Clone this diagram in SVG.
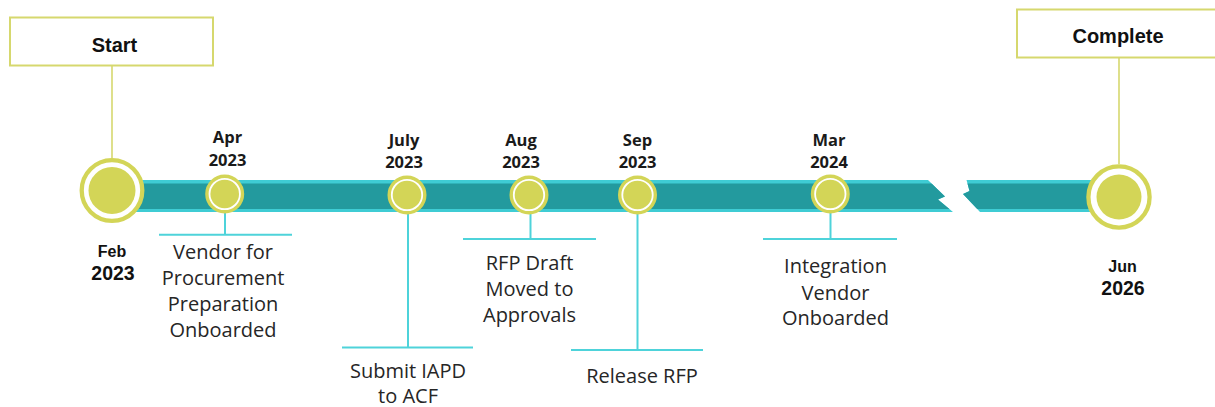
<svg xmlns="http://www.w3.org/2000/svg" width="1215" height="407" viewBox="0 0 1215 407">
  <style>
    .box { fill: #ffffff; stroke: #D6D86E; stroke-width: 2; }
    .stem { stroke: #D6D86E; stroke-width: 1.6; fill: none; }
    .conn { stroke: #4ED3DA; stroke-width: 2; fill: none; }
    .ring { fill: #ffffff; stroke: #D3D557; }
    .dot { fill: #D3D557; }
    .title { font-family: "Liberation Sans", Arial, sans-serif; font-weight: bold; font-size: 20px; fill: #111111; text-anchor: middle; }
    .date { font-family: "Open Sans", "Liberation Sans", sans-serif; font-weight: bold; font-size: 16.5px; fill: #1a1a1a; text-anchor: middle; }
    .edate1 { font-family: "Liberation Sans", Arial, sans-serif; font-weight: bold; font-size: 16px; fill: #111111; text-anchor: middle; }
    .edate2 { font-family: "Liberation Sans", Arial, sans-serif; font-weight: bold; font-size: 19.5px; fill: #111111; text-anchor: middle; }
    .desc { font-family: "Open Sans", "Liberation Sans", sans-serif; font-size: 20px; fill: #262626; text-anchor: middle; }
  </style>
  <defs>
    <clipPath id="bandClip">
      <polygon points="130,180 928,180 945,196.5 938,199.5 953,212 130,212"/>
      <polygon points="966.5,180 1110,180 1110,212 980,212 963,194 969.5,191"/>
    </clipPath>
  </defs>
  <rect width="1215" height="407" fill="#ffffff"/>

  <!-- timeline band -->
  <g id="band" clip-path="url(#bandClip)">
    <rect x="120" y="180" width="1000" height="32" fill="#3FCCD4"/>
    <rect x="120" y="183.5" width="1000" height="25.5" fill="#239A9E"/>
  </g>

  <g id="connectors">
    <line class="stem" x1="112" y1="66" x2="112" y2="158"/>
    <line class="stem" x1="1119" y1="58" x2="1119" y2="164"/>
    <!-- Apr -->
    <line class="conn" x1="225" y1="213" x2="225" y2="234.7"/>
    <line class="conn" x1="159" y1="234.7" x2="292" y2="234.7"/>
    <!-- July -->
    <line class="conn" x1="408" y1="214" x2="408" y2="347.5"/>
    <line class="conn" x1="342" y1="347.5" x2="473" y2="347.5"/>
    <!-- Aug -->
    <line class="conn" x1="530.5" y1="214" x2="530.5" y2="239"/>
    <line class="conn" x1="463" y1="239" x2="596" y2="239"/>
    <!-- Sep -->
    <line class="conn" x1="637.5" y1="214" x2="637.5" y2="350"/>
    <line class="conn" x1="571" y1="350" x2="703" y2="350"/>
    <!-- Mar -->
    <line class="conn" x1="830.5" y1="213" x2="830.5" y2="239"/>
    <line class="conn" x1="763" y1="239" x2="897" y2="239"/>
  </g>

  <g id="start">
    <rect class="box" x="10" y="17.5" width="203" height="48"/>
    <text class="title" x="114.5" y="51.5">Start</text>
    <circle class="ring" cx="112" cy="190.5" r="30.3" stroke-width="4.3"/>
    <circle class="dot" cx="112" cy="190.5" r="23.5"/>
    <text class="edate1" x="112" y="257">Feb</text>
    <text class="edate2" x="113" y="280">2023</text>
  </g>

  <g id="complete">
    <rect class="box" x="1017" y="9.5" width="204" height="48"/>
    <text class="title" x="1118" y="43">Complete</text>
    <circle class="ring" cx="1119" cy="197" r="30.6" stroke-width="4.3"/>
    <circle class="dot" cx="1119" cy="197" r="22.5"/>
    <text class="edate1" x="1122.5" y="272">Jun</text>
    <text class="edate2" x="1123" y="295">2026</text>
  </g>

  <g id="apr">
    <circle class="ring" cx="224.7" cy="194" r="17.8" stroke-width="3.4"/>
    <circle class="dot" cx="224.7" cy="194" r="14.3"/>
    <text class="date" x="227.5" y="143">Apr</text>
    <text class="date" x="227.5" y="166">2023</text>
    <text class="desc" x="223" y="259">Vendor for</text>
    <text class="desc" x="223" y="285">Procurement</text>
    <text class="desc" x="223" y="311">Preparation</text>
    <text class="desc" x="223" y="336.5">Onboarded</text>
  </g>

  <g id="july">
    <circle class="ring" cx="407" cy="195" r="17.8" stroke-width="3.4"/>
    <circle class="dot" cx="407" cy="195" r="14.3"/>
    <text class="date" x="404" y="146">July</text>
    <text class="date" x="404" y="168">2023</text>
    <text class="desc" x="408" y="378">Submit IAPD</text>
    <text class="desc" x="408" y="403">to ACF</text>
  </g>

  <g id="aug">
    <circle class="ring" cx="529" cy="195" r="17.8" stroke-width="3.4"/>
    <circle class="dot" cx="529" cy="195" r="14.3"/>
    <text class="date" x="521" y="146">Aug</text>
    <text class="date" x="521" y="168">2023</text>
    <text class="desc" x="529.5" y="270">RFP Draft</text>
    <text class="desc" x="529.5" y="296">Moved to</text>
    <text class="desc" x="529.5" y="321.5">Approvals</text>
  </g>

  <g id="sep">
    <circle class="ring" cx="637.5" cy="195" r="17.8" stroke-width="3.4"/>
    <circle class="dot" cx="637.5" cy="195" r="14.3"/>
    <text class="date" x="637.5" y="146">Sep</text>
    <text class="date" x="637.5" y="168">2023</text>
    <text class="desc" x="642" y="383">Release RFP</text>
  </g>

  <g id="mar">
    <circle class="ring" cx="830.3" cy="194" r="17.8" stroke-width="3.4"/>
    <circle class="dot" cx="830.3" cy="194" r="14.3"/>
    <text class="date" x="829" y="146">Mar</text>
    <text class="date" x="829" y="168">2024</text>
    <text class="desc" x="835.5" y="273">Integration</text>
    <text class="desc" x="835.5" y="299.5">Vendor</text>
    <text class="desc" x="835.5" y="325">Onboarded</text>
  </g>
</svg>
